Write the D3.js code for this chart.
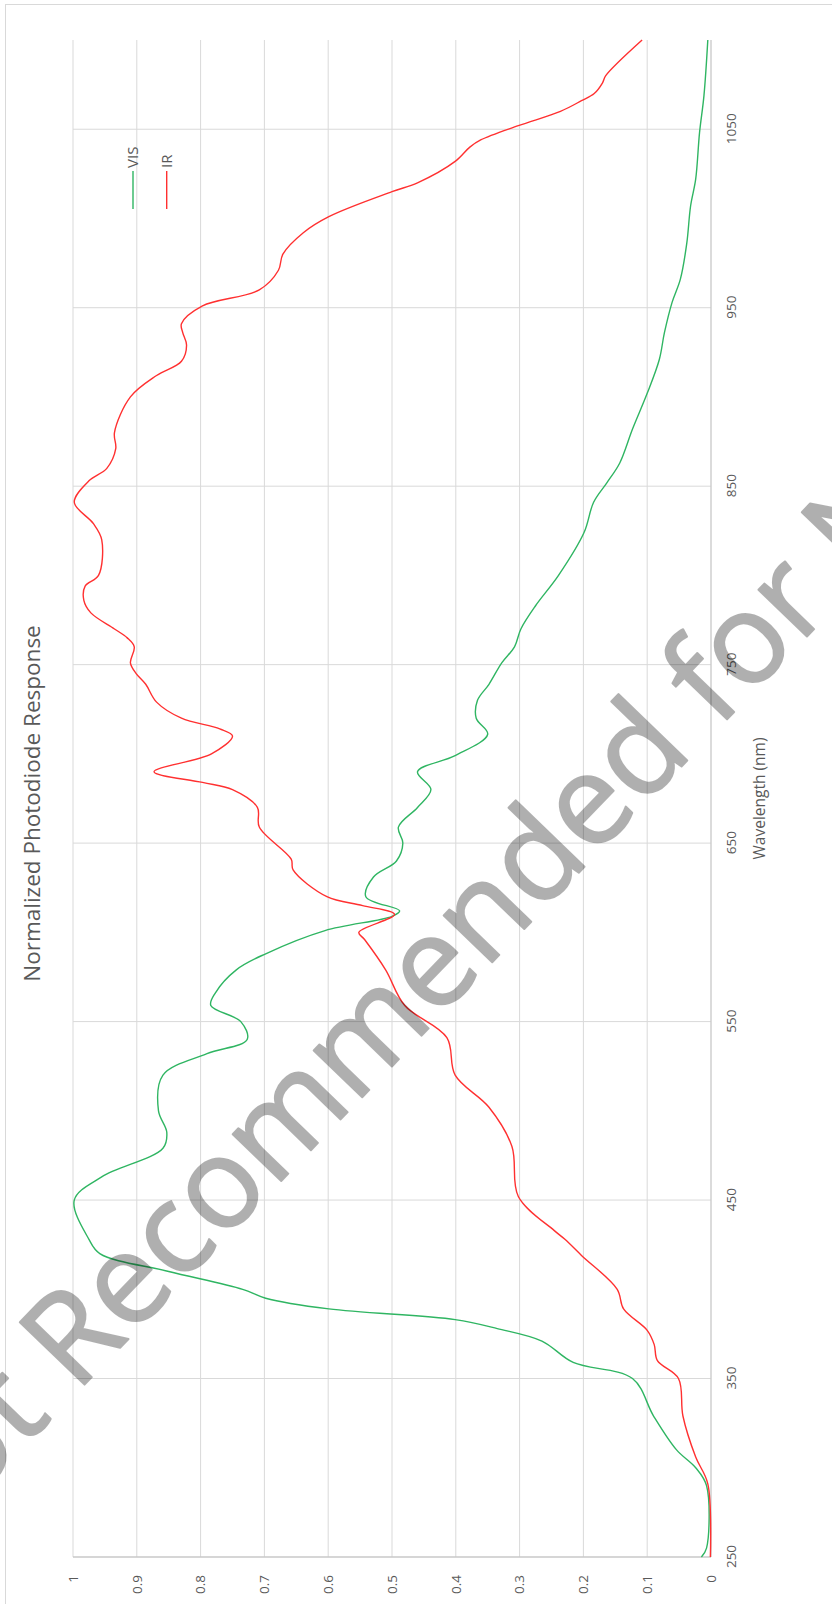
<!DOCTYPE html>
<html>
<head>
<meta charset="utf-8">
<script src="https://cdn.jsdelivr.net/npm/d3@7"></script>
<style>
  body { margin: 0; background: #fff; }
  svg { display: block; }
  text { font-family: 'Open Sans', sans-serif; fill: #595959; }
</style>
</head>
<body>
<svg width="832" height="1604"></svg>
<script>
// VIS photodiode curve (wavelength nm, normalized response)
const visWavelength = [250, 255, 290, 300, 310, 329, 350, 359, 371, 378, 383, 389, 395, 400, 410, 420, 428, 450, 463, 479,
  488, 500, 520, 532, 540, 550, 559, 566, 579, 588, 601, 609, 612, 620, 631, 640, 650, 659, 670, 680,
  690, 699, 711, 720, 730, 739, 751, 760, 770, 783, 800, 824, 841, 852, 863, 882, 902, 921, 936, 953,
  966, 986, 1007, 1022, 1048, 1069, 1100]
const visResponse = [0.015, 0.007, 0.007, 0.024, 0.054, 0.090, 0.123, 0.216, 0.265, 0.335, 0.401, 0.599, 0.698, 0.734, 0.850, 0.958, 0.975, 0.998, 0.955, 0.859,
  0.853, 0.866, 0.859, 0.790, 0.727, 0.737, 0.784, 0.777, 0.744, 0.698, 0.605, 0.500, 0.488, 0.541, 0.529, 0.493, 0.483, 0.490, 0.460, 0.439,
  0.460, 0.401, 0.350, 0.368, 0.366, 0.348, 0.328, 0.308, 0.298, 0.275, 0.239, 0.199, 0.184, 0.163, 0.143, 0.123, 0.100, 0.081, 0.073, 0.061,
  0.048, 0.038, 0.032, 0.024, 0.018, 0.011, 0.005]

// IR photodiode curve
const irWavelength = [250, 291, 306, 329, 350, 360, 369, 377, 389, 400, 419, 428, 433, 452, 480, 502, 520, 541, 559, 579,
  596, 600, 610, 615, 620, 635, 641, 659, 670, 680, 684, 690, 700, 710, 714, 720, 729, 739, 745, 751,
  760, 765, 770, 779, 786, 794, 800, 820, 829, 841, 853, 860, 871, 880, 900, 912, 920, 929, 936, 941,
  951, 960, 971, 980, 992, 1001, 1015, 1020, 1032, 1040, 1044, 1052, 1060, 1066, 1070, 1076, 1080, 1100]
const irResponse = [0.001, 0.005, 0.024, 0.044, 0.051, 0.084, 0.089, 0.100, 0.137, 0.147, 0.203, 0.229, 0.246, 0.302, 0.312, 0.348, 0.401, 0.414, 0.480, 0.510,
  0.543, 0.552, 0.496, 0.546, 0.602, 0.655, 0.658, 0.708, 0.711, 0.750, 0.797, 0.873, 0.783, 0.750, 0.770, 0.830, 0.869, 0.886, 0.901, 0.910,
  0.904, 0.915, 0.935, 0.972, 0.983, 0.981, 0.960, 0.955, 0.968, 0.998, 0.975, 0.947, 0.933, 0.935, 0.910, 0.869, 0.830, 0.822, 0.828, 0.830,
  0.797, 0.708, 0.678, 0.671, 0.639, 0.599, 0.500, 0.460, 0.401, 0.378, 0.361, 0.302, 0.236, 0.203, 0.183, 0.170, 0.165, 0.108]

const wavelengthTicks = [250, 350, 450, 550, 650, 750, 850, 950, 1050]
const responseTicks = [0, 0.1, 0.2, 0.3, 0.4, 0.5, 0.6, 0.7, 0.8, 0.9, 1]
const seriesNames = ['VIS', 'IR']
const seriesColors = ['#2fb562', '#ff3030']

const chartTitle = 'Normalized Photodiode Response'
const xTitle = 'Wavelength (nm)'
const watermark = 'Not Recommended for New Designs'

// the whole chart is drawn turned a quarter turn counter-clockwise
const origin = { x: 73, y: 1557 }
const plotW = 1517 // along wavelength
const plotH = 638 // along response

const svg = d3.select('svg')

// outer chart frame
svg.append('rect')
  .attr('x', 5.5).attr('y', 4.5)
  .attr('width', 1000).attr('height', 1800)
  .attr('fill', 'none').attr('stroke', '#d9d9d9')

const g = svg.append('g')
  .attr('transform', `translate(${origin.x},${origin.y}) rotate(-90)`)

const xScale = d3.scaleLinear().domain([250, 1100]).range([0, plotW])
const yScale = d3.scaleLinear().domain([0, 1]).range([plotH, 0])

// gridlines
g.append('g').selectAll('line')
  .data(responseTicks.filter(d => d > 0))
  .enter().append('line')
  .attr('x1', 0).attr('x2', plotW)
  .attr('y1', d => yScale(d)).attr('y2', d => yScale(d))
  .attr('stroke', '#d9d9d9').attr('stroke-width', 1)

g.append('g').selectAll('line')
  .data(wavelengthTicks.filter(d => d > 250))
  .enter().append('line')
  .attr('x1', d => xScale(d)).attr('x2', d => xScale(d))
  .attr('y1', 0).attr('y2', plotH)
  .attr('stroke', '#d9d9d9').attr('stroke-width', 1)

// axis lines
g.append('line')
  .attr('x1', 0).attr('x2', plotW)
  .attr('y1', plotH).attr('y2', plotH)
  .attr('stroke', '#c8c8c8').attr('stroke-width', 1.3)
g.append('line')
  .attr('x1', 0).attr('x2', 0)
  .attr('y1', 0).attr('y2', plotH)
  .attr('stroke', '#c8c8c8').attr('stroke-width', 1.3)

// axes (labels only)
const xAxis = d3.axisBottom(xScale).tickValues(wavelengthTicks).tickSize(0).tickPadding(15).tickFormat(d3.format('d'))
const yAxis = d3.axisLeft(yScale).tickValues(responseTicks).tickSize(0).tickPadding(18).tickFormat(d => String(d))

const xg = g.append('g').attr('transform', `translate(0,${plotH})`).call(xAxis)
const yg = g.append('g').call(yAxis)
xg.select('.domain').remove()
yg.select('.domain').remove()
g.selectAll('.tick text')
  .attr('fill', '#595959')
  .attr('font-size', 13.5)
  .attr('font-family', "'Open Sans', sans-serif")

// series lines
const line = d3.line()
  .x(d => xScale(d[0]))
  .y(d => yScale(d[1]))
  .curve(d3.curveCatmullRom.alpha(0.5))

const series = [
  d3.zip(visWavelength, visResponse),
  d3.zip(irWavelength, irResponse)
]

g.selectAll('.series')
  .data(series)
  .enter().append('path')
  .attr('class', 'series')
  .attr('d', line)
  .attr('fill', 'none')
  .attr('stroke', (d, i) => seriesColors[i])
  .attr('stroke-width', 1.4)

// titles
g.append('text')
  .attr('x', plotW / 2 - 5).attr('y', -33)
  .attr('text-anchor', 'middle')
  .attr('font-size', 22.5)
  .text(chartTitle)

g.append('text')
  .attr('x', plotW / 2).attr('y', 692)
  .attr('text-anchor', 'middle')
  .attr('font-size', 15.5)
  .text(xTitle)

// legend
const legend = g.append('g').selectAll('g')
  .data(seriesNames)
  .enter().append('g')
  .attr('transform', (d, i) => `translate(1348,${60 + i * 33.7})`)

legend.append('line')
  .attr('x1', 0).attr('x2', 38)
  .attr('stroke', (d, i) => seriesColors[i])
  .attr('stroke-width', 1.4)

legend.append('text')
  .attr('x', 41).attr('dy', '0.35em')
  .attr('font-size', 15)
  .text(d => d)

// watermark, semi transparent over the plot
svg.append('g')
  .attr('opacity', 0.31)
  .append('text')
  .attr('transform', 'translate(-96.6,1572.2) rotate(-46)')
  .attr('font-family', "'Liberation Sans', Arial, sans-serif")
  .attr('font-size', 126)
  .style('fill', '#000')
  .style('stroke', '#000')
  .style('stroke-width', 2)
  .style('stroke-linejoin', 'round')
  .text(watermark)
</script>
</body>
</html>
